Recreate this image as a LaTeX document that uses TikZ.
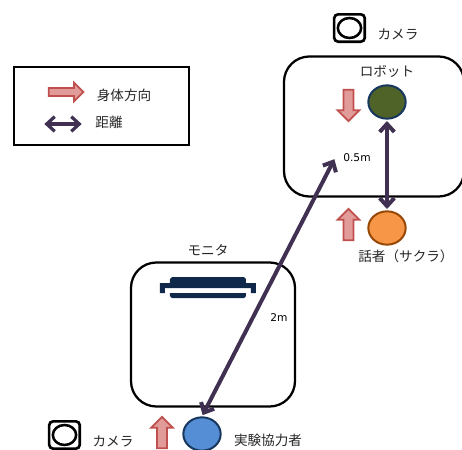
\documentclass[tikz,border=0pt]{standalone}
\usepackage{fontspec}
\setmainfont{DejaVu Sans}
\newfontfamily\jpfont{Noto Sans CJK JP}
\usetikzlibrary{arrows.meta,shapes.arrows,shapes.geometric}
\definecolor{distcol}{HTML}{403152}
\definecolor{bodydraw}{HTML}{C0504D}
\definecolor{bodyfill}{HTML}{E19B99}
\definecolor{navycol}{HTML}{17375E}
\definecolor{moncol}{HTML}{10294A}
\newcommand{\shaftbox}[1]{\phantom{\rule{#1}{#1}}}
\begin{document}
\begin{tikzpicture}
[x=0.75pt,y=-0.75pt,>=stealth,
room/.style = {draw, line width=1.7pt, rounded corners=19pt},
person/.style = {draw, ellipse, line width=1.5pt, minimum width=28pt, minimum height=25pt, inner sep=0pt},
bodyarrow/.style = {draw=bodydraw, fill=bodyfill, line width=1.3pt, single arrow, single arrow head extend=4.5pt, minimum height=23.5pt, inner sep=0pt},
dist/.style = {draw=distcol, line width=3pt, {Straight Barb[length=6pt,width=11pt]}-{Straight Barb[length=6pt,width=11pt]}, shorten <=1pt, shorten >=1pt},
jp/.style = {font=\jpfont\fontsize{10.2}{11}\selectfont, text=black!85, inner sep=0pt},
num/.style = {font=\fontsize{8}{9}\selectfont, inner sep=0pt},
camera/.style = {draw, line width=2pt, rounded corners=3pt, minimum width=23pt, minimum height=20.5pt, inner sep=0pt},
lens/.style = {draw, ellipse, line width=1.9pt, minimum width=17.5pt, minimum height=15pt, inner sep=0pt},
]
\useasboundingbox (0,0) rectangle (462,450);
% legend
\node (legend) at (101.5,106)[draw, line width=1.7pt, minimum width=131pt, minimum height=58pt, inner sep=0pt] {};
\node (legbody) at (64,92)[bodyarrow, minimum height=26pt, single arrow head extend=4pt] {\shaftbox{4.7pt}};
\node (legbodytxt) at (124,95)[jp] {身体方向};
\coordinate (legl) at (43,124);
\coordinate (legr) at (83,124);
\draw [dist, line width=2.4pt] (legl)--(legr);
\node (legdisttxt) at (109,122)[jp] {距離};
% rooms
\node (robotroom) at (374,126.5)[room, draw, minimum width=135pt, minimum height=105pt, inner sep=0pt] {};
\node (monroom) at (213,334.5)[room, draw, minimum width=123pt, minimum height=108pt, inner sep=0pt] {};
% cameras
\node (cam1) at (349.5,28)[camera] {};
\node (cam1lens) at (349.5,28)[lens] {};
\node (cam1txt) at (398,34)[jp] {カメラ};
\node (cam2) at (64.5,435)[camera] {};
\node (cam2lens) at (64.5,435)[lens] {};
\node (cam2txt) at (113,441)[jp] {カメラ};
% monitor
\fill [moncol] (170,288) -- (170,279) -- (172,277) -- (244,277) -- (246,279) -- (246,283) -- (256,283) -- (256,293) -- (251,293) -- (251,288) -- (165,288) -- (165,293) -- (160,293) -- (160,283) -- (170,283) -- cycle;
\fill [moncol] (170,293) -- (246,293) -- (246,296) -- (244,298) -- (172,298) -- (170,296) -- cycle;
\node (montxt) at (208,250)[jp] {モニタ};
% people
\node (robot) at (387,102)[person, fill={rgb,255:red,79;green,98;blue,40}, draw=navycol] {};
\node (robottxt) at (387,71)[jp] {ロボット};
\node (speaker) at (387,228)[person, fill={rgb,255:red,247;green,150;blue,70}, draw={rgb,255:red,152;green,72;blue,6}] {};
\node (speakertxt) at (406,256)[jp] {話者（サクラ）};
\node (subject) at (202,434)[person, fill={rgb,255:red,85;green,142;blue,213}, draw=navycol] {};
\node (subjecttxt) at (268,440)[jp] {実験協力者};
% body direction
\node (robotbody) at (348.5,103)[bodyarrow, shape border rotate=270] {\shaftbox{6.2pt}};
\node (speakerbody) at (348.5,227)[bodyarrow, shape border rotate=90] {\shaftbox{6.2pt}};
\node (subjectbody) at (162,435)[bodyarrow, shape border rotate=90] {\shaftbox{6.2pt}};
% distances
\coordinate (tip) at (335,158);
\draw [dist] (robot)--(speaker);
\draw [dist] (subject.north)--(tip);
\node (d1) at (357,158)[num] {0.5m};
\node (d2) at (279,318)[num] {2m};
\end{tikzpicture}
\end{document}
